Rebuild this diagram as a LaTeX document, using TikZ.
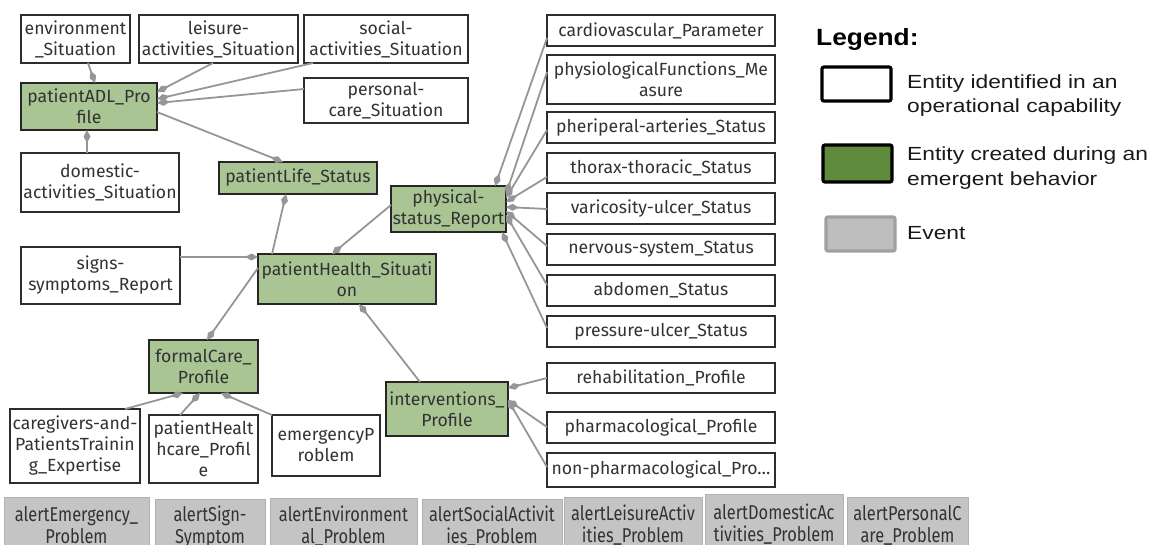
\documentclass[tikz,border=0pt]{standalone}
\usepackage{fontspec}
\setmainfont{Fira Sans}
\newfontfamily\legendfont[FakeStretch=1.2]{Liberation Sans}
\newfontfamily\legendtitlefont[FakeStretch=1.12]{Liberation Sans}
\newfontfamily\eventfont[FakeStretch=0.82]{Fira Sans}
\usetikzlibrary{arrows.meta}

\definecolor{boxline}{RGB}{45,45,45}
\definecolor{emfill}{RGB}{169,197,148}
\definecolor{evfill}{RGB}{196,196,196}
\definecolor{evline}{RGB}{178,178,178}
\definecolor{linkgray}{RGB}{150,150,150}
\definecolor{txt}{RGB}{50,50,50}
\definecolor{legreen}{RGB}{96,139,60}
\definecolor{legray}{RGB}{190,190,190}
\definecolor{legrayline}{RGB}{160,160,160}

\tikzset{
  sz/.style 2 args={minimum width=#1, minimum height=#2},
  ent/.style={draw=boxline, line width=1.8pt, fill=white, text=txt,
    align=center, inner sep=1pt, outer sep=0pt,
    font=\fontsize{17.6}{21}\selectfont},
  emg/.style={ent, fill=emfill, draw=black!85, line width=2pt},
  evt/.style={draw=evline, line width=0.8pt, fill=evfill, text=txt,
    align=center, inner sep=0.5pt, outer sep=0pt, anchor=north,
    font=\eventfont\fontsize{20}{22}\selectfont},
  link/.style={draw=linkgray, line width=1.8pt,
    -{Diamond[length=13pt,width=7pt]}},
  legbox/.style={line width=3.2pt, rounded corners=2pt},
  legtext/.style={font=\legendfont\fontsize{19}{24.5}\selectfont,
    align=left, inner sep=0pt, text=black!90},
}

\begin{document}
\begin{tikzpicture}[x=1pt, y=-1pt]
\useasboundingbox (0,0) rectangle (1151,544);
\clip (0,0) rectangle (1151,544);

% ---- ADL situations ----
\node[ent, sz={109}{48}] (env) at (75.5,39) {environment\\\_Situation};
\node[ent, sz={159}{48}] (leis) at (218.5,39) {leisure-\\activities\_Situation};
\node[ent, sz={164}{48}] (soc) at (386,39) {social-\\activities\_Situation};
\node[ent, sz={164}{45}] (pers) at (386,100.5) {personal-\\care\_Situation};
\node[emg, sz={136}{47}] (adl) at (89,106.5) {patientADL\_Pro\\file};
\node[ent, sz={158}{59}] (dom) at (100,182.5) {domestic-\\activities\_Situation};

% ---- health status ----
\node[emg, sz={158}{32}] (life) at (298,178) {patientLife\_Status};
\node[emg, sz={115}{46}] (phys) at (448.5,209) {physical-\\status\_Report};
\node[emg, sz={178}{50}] (health) at (347,279) {patientHealth\_Situati\\on};
\node[ent, sz={159}{57}] (signs) at (100.5,275.5) {signs-\\symptoms\_Report};

% ---- formal care ----
\node[emg, sz={109}{53}] (formal) at (203.5,366.5) {formalCare\_\\Profile};
\node[ent, sz={130}{74}] (train) at (75,446) {caregivers-and-\\PatientsTrainin\\g\_Expertise};
\node[ent, sz={109}{68}] (hcare) at (203.5,449) {patientHealt\\hcare\_Profil\\e};
\node[ent, sz={108}{61}] (emerg) at (326,445.5) {emergencyP\\roblem};

% ---- interventions ----
\node[emg, sz={122}{54}] (interv) at (447,409) {interventions\_\\Profile};

% ---- physical status details ----
\node[ent, sz={228}{31}] (cardio) at (661,30.5) {cardiovascular\_Parameter};
\node[ent, sz={228}{49}] (physio) at (661,79.5) {physiologicalFunctions\_Me\\asure};
\node[ent, sz={228}{31}] (periph) at (661,127.5) {pheriperal-arteries\_Status};
\node[ent, sz={228}{30}] (thorax) at (661,168) {thorax-thoracic\_Status};
\node[ent, sz={228}{31}] (varic) at (661,208.5) {varicosity-ulcer\_Status};
\node[ent, sz={228}{31}] (nerv) at (661,249.5) {nervous-system\_Status};
\node[ent, sz={228}{31}] (abdo) at (661,290.5) {abdomen\_Status};
\node[ent, sz={228}{31}] (press) at (661,331.5) {pressure-ulcer\_Status};
\node[ent, sz={228}{30}] (rehab) at (661,378) {rehabilitation\_Profile};
\node[ent, sz={228}{31}] (pharma) at (661,427.5) {pharmacological\_Profile};
\node[ent, sz={228}{34}] (nonph) at (661,470) {non-pharmacological\_Pro\ldots};

% ---- composition links (diamond at the owning entity) ----
\draw[link] ([xshift=67pt]env.south west) -- ([xshift=74pt]adl.north west);
\draw[link] ([xshift=74pt]leis.south west) -- ([yshift=-9pt]adl.north east);
\draw[link] ([xshift=9pt]soc.south west) -- ([yshift=-16pt]adl.north east);
\draw[link] ([yshift=-11pt]pers.north west) -- ([yshift=-20pt]adl.north east);
\draw[link] ([xshift=66pt]dom.north west) -- ([xshift=66pt]adl.south west);
\draw[link] ([yshift=-29pt]adl.north east) -- ([xshift=64pt]life.north west);
\draw[link] ([xshift=14pt]health.north west) -- ([xshift=67pt]life.south west);
\draw[link] ([yshift=-19pt]phys.north west) -- ([xshift=74pt]health.north west);
\draw[link] ([yshift=-10pt]signs.north east) -- ([yshift=-3pt]health.north west);
\draw[link] ([yshift=-14pt]health.north west) -- ([xshift=58pt]formal.north west);
\draw[link] ([xshift=34pt]interv.north west) -- ([xshift=101pt]health.south west);
\draw[link] ([xshift=-15pt]train.north east) -- ([xshift=34pt]formal.south west);
\draw[link] ([xshift=31pt]hcare.north west) -- ([xshift=51pt]formal.south west);
\draw[link] (emerg.north west) -- ([xshift=72pt]formal.south west);

\draw[link] ([yshift=-23pt]cardio.north west) -- ([xshift=-11pt]phys.north east);
\draw[link] ([yshift=-17pt]physio.north west) -- ([yshift=-8pt]phys.north east);
\draw[link] ([yshift=-18pt]periph.north west) -- ([yshift=-12pt]phys.north east);
\draw[link] ([yshift=-24pt]thorax.north west) -- ([yshift=-16pt]phys.north east);
\draw[link] ([yshift=-16pt]varic.north west) -- ([yshift=-21pt]phys.north east);
\draw[link] ([yshift=-12pt]nerv.north west) -- ([yshift=-25pt]phys.north east);
\draw[link] ([yshift=-10pt]abdo.north west) -- ([yshift=-29pt]phys.north east);
\draw[link] ([yshift=-12pt]press.north west) -- ([xshift=-4pt]phys.south east);

\draw[link] ([yshift=-15pt]rehab.north west) -- ([yshift=-6pt]interv.north east);
\draw[link] ([yshift=-15pt]pharma.north west) -- ([yshift=-18pt]interv.north east);
\draw[link] ([yshift=-14pt]nonph.north west) -- ([yshift=-18pt]interv.north east);

% ---- events (boxes run past the lower edge) ----
\node[evt, sz={145}{57}] (ev1) at (76.5,497) {alertEmergency\_\\Problem};
\node[evt, sz={110}{55}] (ev2) at (210,499) {alertSign-\\Symptom};
\node[evt, sz={147}{56}] (ev3) at (343.5,498) {alertEnvironment\\al\_Problem};
\node[evt, sz={140}{55}] (ev4) at (492,499) {alertSocialActivit\\ies\_Problem};
\node[evt, sz={138}{57}] (ev5) at (633,497) {alertLeisureActiv\\ities\_Problem};
\node[evt, sz={138}{60}] (ev6) at (774,494) {alertDomesticAc\\tivities\_Problem};
\node[evt, sz={121}{57}] (ev7) at (907.5,497) {alertPersonalC\\are\_Problem};

% ---- legend ----
\node[anchor=base west, inner sep=0pt, text=black,
  font=\legendtitlefont\bfseries\fontsize{23.5}{28}\selectfont] (legtitle) at (816,45) {Legend:};
\node[legbox, draw=black, fill=white, sz={69}{34}, inner sep=0pt] (leg1) at (856.5,84) {};
\node[legtext, anchor=west] (legt1) at (907,95.5) {Entity identified in an\\operational capability};
\node[legbox, draw=black, fill=legreen, sz={69}{37}, inner sep=0pt] (leg2) at (857.5,163.5) {};
\node[legtext, anchor=west] (legt2) at (907,168) {Entity created during an\\emergent behavior};
\node[legbox, draw=legrayline, fill=legray, sz={69}{34}, inner sep=0pt] (leg3) at (860.5,234) {};
\node[legtext, anchor=base west] (legt3) at (907,239) {Event};
\end{tikzpicture}
\end{document}
